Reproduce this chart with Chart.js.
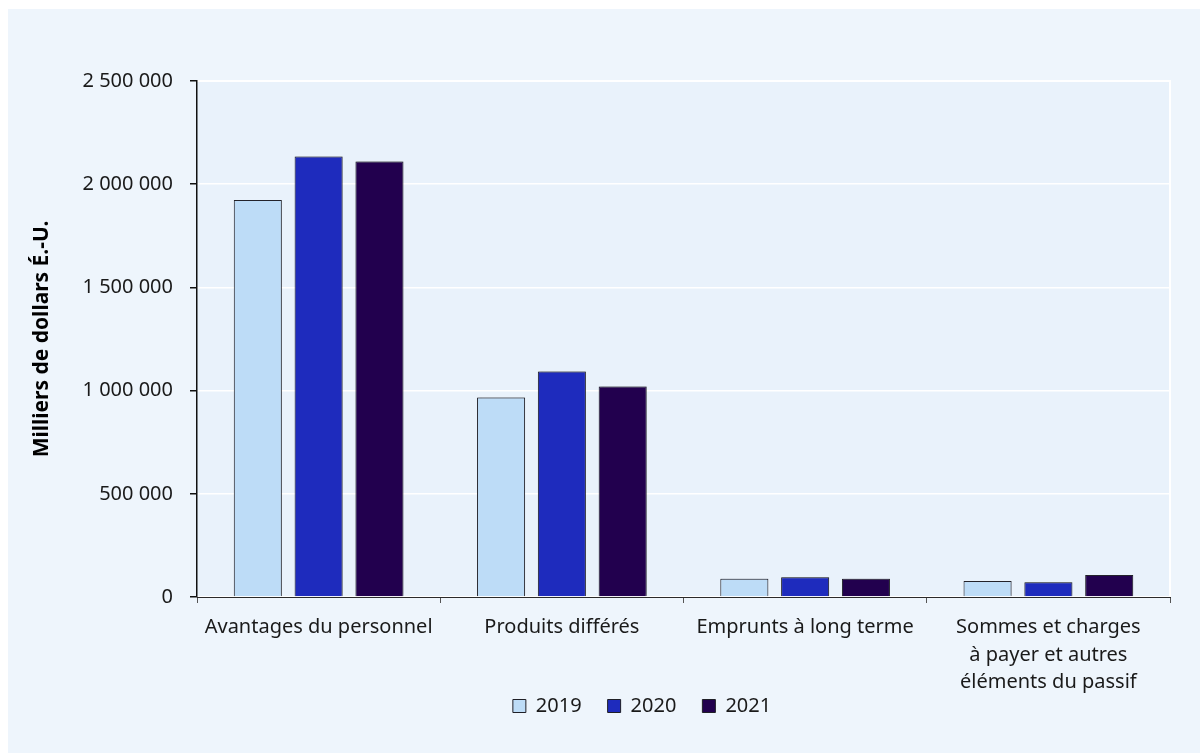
<!DOCTYPE html>
<html lang="fr">
<head>
<meta charset="utf-8">
<title>Passif – Milliers de dollars É.-U.</title>
<script src="https://cdn.jsdelivr.net/npm/chart.js@4.4.1/dist/chart.umd.min.js"></script>
<style>
  html, body { margin: 0; padding: 0; background: #ffffff; }
  #wrap { width: 1200px; height: 753px; position: relative; }
</style>
</head>
<body>
<div id="wrap"><canvas id="chart" width="1200" height="753"></canvas></div>
<script>
// Categories of liabilities (x axis)
const categories = [
  'Avantages du personnel',
  'Produits différés',
  'Emprunts à long terme',
  ['Sommes et charges', 'à payer et autres', 'éléments du passif']
];

// Series, in thousands of US dollars
const years = ['2019', '2020', '2021'];
const values2019 = [1924000, 967000, 89000, 78000];
const values2020 = [2134000, 1093000, 96000, 71000];
const values2021 = [2110000, 1020000, 89000, 107000];

// Y axis range
const yMin = 0;
const yMax = 2500000;
const yStep = 500000;

const seriesColors = ['#BDDCF7', '#1E2BBD', '#22004E'];
const outerBg = '#EEF5FC';
const plotBg = '#E9F2FB';

Chart.defaults.font.family = "'Noto Sans', 'Open Sans', sans-serif";
Chart.defaults.color = '#1a1a1a';

// Formats 2500000 as "2 500 000"
function spaced(n) {
  return String(Math.round(n)).replace(/\B(?=(\d{3})+(?!\d))/g, ' ');
}

const backdrop = {
  id: 'backdrop',
  afterLayout(chart) {
    // let the three-line category label run below the axis box
    chart.scales.x.bottom = chart.height;
  },
  beforeDraw(chart) {
    const { ctx, chartArea: a } = chart;
    ctx.save();
    ctx.fillStyle = '#ffffff';
    ctx.fillRect(0, 0, chart.width, chart.height);
    ctx.fillStyle = outerBg;
    ctx.fillRect(8, 9, chart.width - 8, chart.height - 9);
    ctx.fillStyle = plotBg;
    ctx.fillRect(a.left, a.top, a.right - a.left, a.bottom - a.top);
    ctx.strokeStyle = '#ffffff';
    ctx.lineWidth = 2;
    ctx.beginPath();
    ctx.moveTo(a.left, a.top);
    ctx.lineTo(a.right, a.top);
    ctx.lineTo(a.right, a.bottom);
    ctx.stroke();
    ctx.restore();
  },
  beforeDatasetsDraw(chart) {
    const ctx = chart.ctx;
    ctx.save();
    ctx.shadowColor = 'rgba(60,60,70,0.35)';
    ctx.shadowBlur = 1.5;
    ctx.shadowOffsetX = 1;
    ctx.shadowOffsetY = -1;
  },
  afterDatasetsDraw(chart) {
    chart.ctx.restore();
  }
};

const seriesValues = [values2019, values2020, values2021];

new Chart(document.getElementById('chart'), {
  type: 'bar',
  data: {
    labels: categories,
    datasets: years.map((y, i) => ({
      label: y,
      data: seriesValues[i],
      backgroundColor: seriesColors[i],
      borderColor: '#1f1f26',
      borderWidth: 1,
      categoryPercentage: 0.75,
      barPercentage: 0.79
    }))
  },
  options: {
    responsive: false,
    animation: false,
    events: [],
    layout: { padding: { left: 80, right: -4, top: 81, bottom: 27 } },
    plugins: {
      tooltip: { enabled: false },
      legend: {
        position: 'bottom',
        labels: {
          boxWidth: 13,
          boxHeight: 13,
          padding: 26,
          color: '#1a1a1a',
          font: { size: 20 }
        }
      }
    },
    scales: {
      x: {
        offset: true,
        grid: {
          display: true,
          offset: true,
          drawOnChartArea: false,
          drawTicks: true,
          tickLength: 6,
          tickColor: '#555555'
        },
        border: { display: true, color: '#2a2a2a', width: 1 },
        ticks: {
          color: '#1a1a1a',
          font: { size: 20, lineHeight: 1.375 },
          padding: 11,
          maxRotation: 0,
          autoSkip: false
        },
        afterFit(scale) { scale.height = 73; }
      },
      y: {
        min: yMin,
        max: yMax,
        grid: {
          color: '#ffffff',
          lineWidth: 1.5,
          drawTicks: true,
          tickLength: 7,
          tickColor: '#111111'
        },
        border: { display: true, color: '#111111', width: 1.5 },
        ticks: {
          stepSize: yStep,
          padding: 17,
          color: '#1a1a1a',
          font: { size: 20 },
          callback: (v) => spaced(v)
        },
        title: {
          display: true,
          text: 'Milliers de dollars É.-U.',
          color: '#000000',
          font: { size: 21, weight: 'bold', lineHeight: 1.2 },
          padding: { top: -50.6, bottom: 0 }
        },
        afterFit(scale) { scale.width = 117; }
      },
      // empty right-hand spacer keeping the plot's right edge in place
      yRight: {
        type: 'linear',
        position: 'right',
        display: true,
        grid: { display: false, drawTicks: false },
        border: { display: false },
        ticks: { display: false },
        afterFit(scale) { scale.width = 34; }
      }
    }
  },
  plugins: [backdrop]
});
</script>
</body>
</html>
